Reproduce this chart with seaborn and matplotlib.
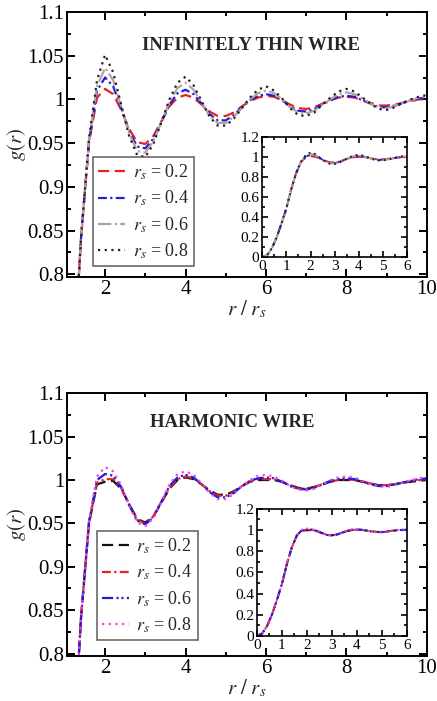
import numpy as np
import matplotlib
matplotlib.use("Agg")
import matplotlib.pyplot as plt
from matplotlib.ticker import MultipleLocator
import seaborn as sns

# r / r_s grid (0 .. 10, step 0.2)
r = np.round(np.arange(0, 10.01, 0.2), 1)

# short-range part shared by all curves (r = 0 .. 1.4)
g_short = [0.0, 0.02, 0.09, 0.20, 0.34, 0.49, 0.68, 0.84]

# infinitely thin wire, r = 1.6 .. 10
thin_02 = [0.950, 1.002, 1.012, 1.006, 0.988, 0.966, 0.951, 0.949, 0.958, 0.975,
           0.992, 1.002, 1.005, 1.002, 0.994, 0.986, 0.981, 0.981, 0.985, 0.992,
           0.998, 1.002, 1.004, 1.003, 0.999, 0.994, 0.990, 0.989, 0.991, 0.995,
           0.999, 1.002, 1.003, 1.002, 0.999, 0.996, 0.993, 0.993, 0.994, 0.996,
           0.998, 1.000, 1.000]
thin_04 = [0.952, 1.010, 1.025, 1.015, 0.990, 0.963, 0.946, 0.944, 0.955, 0.974,
           0.994, 1.007, 1.011, 1.006, 0.995, 0.983, 0.976, 0.976, 0.982, 0.991,
           0.999, 1.004, 1.006, 1.004, 0.999, 0.992, 0.987, 0.986, 0.989, 0.994,
           0.999, 1.003, 1.004, 1.003, 0.999, 0.995, 0.991, 0.991, 0.993, 0.996,
           0.999, 1.001, 1.002]
thin_06 = [0.953, 1.015, 1.036, 1.022, 0.992, 0.961, 0.941, 0.939, 0.952, 0.974,
           0.997, 1.013, 1.019, 1.011, 0.996, 0.981, 0.973, 0.973, 0.980, 0.990,
           1.000, 1.007, 1.010, 1.007, 1.000, 0.991, 0.985, 0.984, 0.987, 0.994,
           1.000, 1.006, 1.008, 1.006, 1.001, 0.995, 0.990, 0.990, 0.992, 0.996,
           0.999, 1.002, 1.003]
thin_08 = [0.955, 1.022, 1.051, 1.031, 0.994, 0.958, 0.936, 0.934, 0.949, 0.974,
           1.000, 1.019, 1.026, 1.016, 0.998, 0.980, 0.970, 0.970, 0.978, 0.990,
           1.002, 1.011, 1.015, 1.010, 1.001, 0.990, 0.982, 0.981, 0.985, 0.994,
           1.002, 1.009, 1.012, 1.009, 1.002, 0.995, 0.989, 0.988, 0.991, 0.996,
           1.000, 1.003, 1.005]

# harmonic wire, r = 1.6 .. 10
harm_02 = [0.950, 0.995, 0.998, 0.999, 0.990, 0.972, 0.955, 0.951, 0.958, 0.974,
           0.990, 1.000, 1.003, 1.001, 0.995, 0.988, 0.983, 0.983, 0.987, 0.993,
           0.998, 1.000, 1.000, 1.000, 0.998, 0.994, 0.991, 0.990, 0.992, 0.995,
           0.998, 1.000, 1.000, 1.000, 0.998, 0.996, 0.994, 0.994, 0.995, 0.997,
           0.998, 0.999, 1.000]
harm_04 = [0.951, 0.997, 1.001, 1.001, 0.991, 0.972, 0.954, 0.950, 0.958, 0.975,
           0.991, 1.001, 1.004, 1.002, 0.995, 0.987, 0.982, 0.982, 0.986, 0.993,
           0.998, 1.001, 1.001, 1.001, 0.998, 0.994, 0.990, 0.990, 0.992, 0.995,
           0.998, 1.000, 1.001, 1.000, 0.998, 0.996, 0.994, 0.994, 0.995, 0.997,
           0.999, 1.000, 1.001]
harm_06 = [0.952, 1.000, 1.007, 1.005, 0.992, 0.971, 0.953, 0.949, 0.957, 0.975,
           0.993, 1.003, 1.006, 1.003, 0.995, 0.986, 0.980, 0.980, 0.985, 0.993,
           0.999, 1.002, 1.003, 1.002, 0.998, 0.993, 0.990, 0.989, 0.991, 0.995,
           0.999, 1.001, 1.002, 1.001, 0.998, 0.995, 0.993, 0.993, 0.995, 0.997,
           0.999, 1.001, 1.002]
harm_08 = [0.953, 1.004, 1.015, 1.010, 0.994, 0.970, 0.951, 0.947, 0.956, 0.975,
           0.995, 1.007, 1.010, 1.006, 0.996, 0.985, 0.978, 0.978, 0.984, 0.993,
           1.000, 1.005, 1.006, 1.004, 0.999, 0.993, 0.989, 0.988, 0.990, 0.995,
           1.000, 1.003, 1.004, 1.003, 0.999, 0.995, 0.993, 0.992, 0.994, 0.997,
           1.000, 1.002, 1.003]

labels = [r"$r_s$ = 0.2", r"$r_s$ = 0.4", r"$r_s$ = 0.6", r"$r_s$ = 0.8"]

thin_styles = [("#e8231f", (0, (5, 2.5))),
               ("#1f1fd8", (0, (4, 1.5, 1, 1.5))),
               ("#b8a0a0", (0, (6, 1.5, 1, 1.5))),
               ("#222222", (0, (1, 2)))]
harm_styles = [("#111111", (0, (5, 2.5))),
               ("#e8231f", (0, (4, 1.5, 1, 1.5))),
               ("#1f1fd8", (0, (5, 1.5, 1, 1.2, 1, 1.5))),
               ("#ee44ee", (0, (1, 2)))]

sns.set_style("ticks")
plt.rcParams["font.family"] = ["Liberation Serif", "DejaVu Serif"]
plt.rcParams["mathtext.fontset"] = "stix"


def style_axes(ax, xmaj, xmin, ymaj, ymin, size, lw=1.4):
    ax.xaxis.set_major_locator(MultipleLocator(xmaj))
    ax.xaxis.set_minor_locator(MultipleLocator(xmin))
    ax.yaxis.set_major_locator(MultipleLocator(ymaj))
    ax.yaxis.set_minor_locator(MultipleLocator(ymin))
    ax.tick_params(which="both", direction="in", top=True, right=True,
                   width=lw, labelsize=size, colors="black", pad=2)
    ax.tick_params(which="major", length=6)
    ax.tick_params(which="minor", length=3)
    for s in ax.spines.values():
        s.set_linewidth(lw)
        s.set_color("black")
        s.set_visible(True)


def panel(main_rect, inset_rect, series, styles, title, title_xy, leg_xy, ilabels):
    ax = fig.add_axes(main_rect)
    for g, (c, ls), lab in zip(series, styles, labels):
        full = np.array(g_short + g)
        sns.lineplot(x=r, y=full, ax=ax, color=c, linestyle=ls, linewidth=1.6, label=lab)
    ax.set_xlim(1.05, 10)
    ax.set_ylim(0.797, 1.1)
    style_axes(ax, 2, 1, 0.05, 0.025, 15)
    ax.set_yticks([0.8, 0.85, 0.9, 0.95, 1.0, 1.05, 1.1])
    ax.set_yticklabels(["0.8", "0.85", "0.9", "0.95", "1", "1.05", "1.1"])
    ax.set_xticks([2, 4, 6, 8, 10])
    ax.set_xlabel(r"$r\ /\ r_s$", fontsize=15, labelpad=0)
    ax.set_ylabel(r"$g(r)$", fontsize=15, labelpad=0)
    ax.text(title_xy[0], title_xy[1], title, transform=ax.transAxes, ha="center",
            va="center", fontsize=13.5, fontweight="bold")
    leg = ax.legend(loc="lower left", bbox_to_anchor=leg_xy, fontsize=13,
                    frameon=True, fancybox=False, handlelength=1.5,
                    handletextpad=0.4, borderpad=0.3, labelspacing=0.38,
                    borderaxespad=0)
    leg.get_frame().set_edgecolor("#444444")
    leg.get_frame().set_linewidth(1.2)

    ins = fig.add_axes(inset_rect)
    for g, (c, ls) in zip(series, styles):
        full = np.array(g_short + g)
        sns.lineplot(x=r[r <= 6.0], y=full[r <= 6.0], ax=ins, color=c,
                     linestyle=ls, linewidth=1.4, legend=False)
    ins.set_xlim(0, 6)
    ins.set_ylim(0, 1.2)
    style_axes(ins, 1, 0.5, 0.2, 0.1, 11, lw=1.2)
    ins.tick_params(which="major", length=4)
    ins.tick_params(which="minor", length=2)
    ins.set_xticks(range(7))
    ins.set_yticks([0, 0.2, 0.4, 0.6, 0.8, 1.0, 1.2])
    ins.set_yticklabels(ilabels)
    ins.set_xlabel("")
    ins.set_ylabel("")
    return ax


fig = plt.figure(figsize=(4.37, 7.01), dpi=100)
ilab = ["0", "0.2", "0.4", "0.6", "0.8", "1", "1.2"]

panel([0.153, 0.605, 0.824, 0.378], [0.600, 0.633, 0.332, 0.171],
      [thin_02, thin_04, thin_06, thin_08], thin_styles,
      "INFINITELY THIN WIRE", (0.51, 0.875), (0.072, 0.04), ilab)
panel([0.153, 0.064, 0.824, 0.375], [0.588, 0.093, 0.343, 0.181],
      [harm_02, harm_04, harm_06, harm_08], harm_styles,
      "HARMONIC WIRE", (0.46, 0.89), (0.083, 0.06), ilab)

fig.savefig("out.png", dpi=100)
